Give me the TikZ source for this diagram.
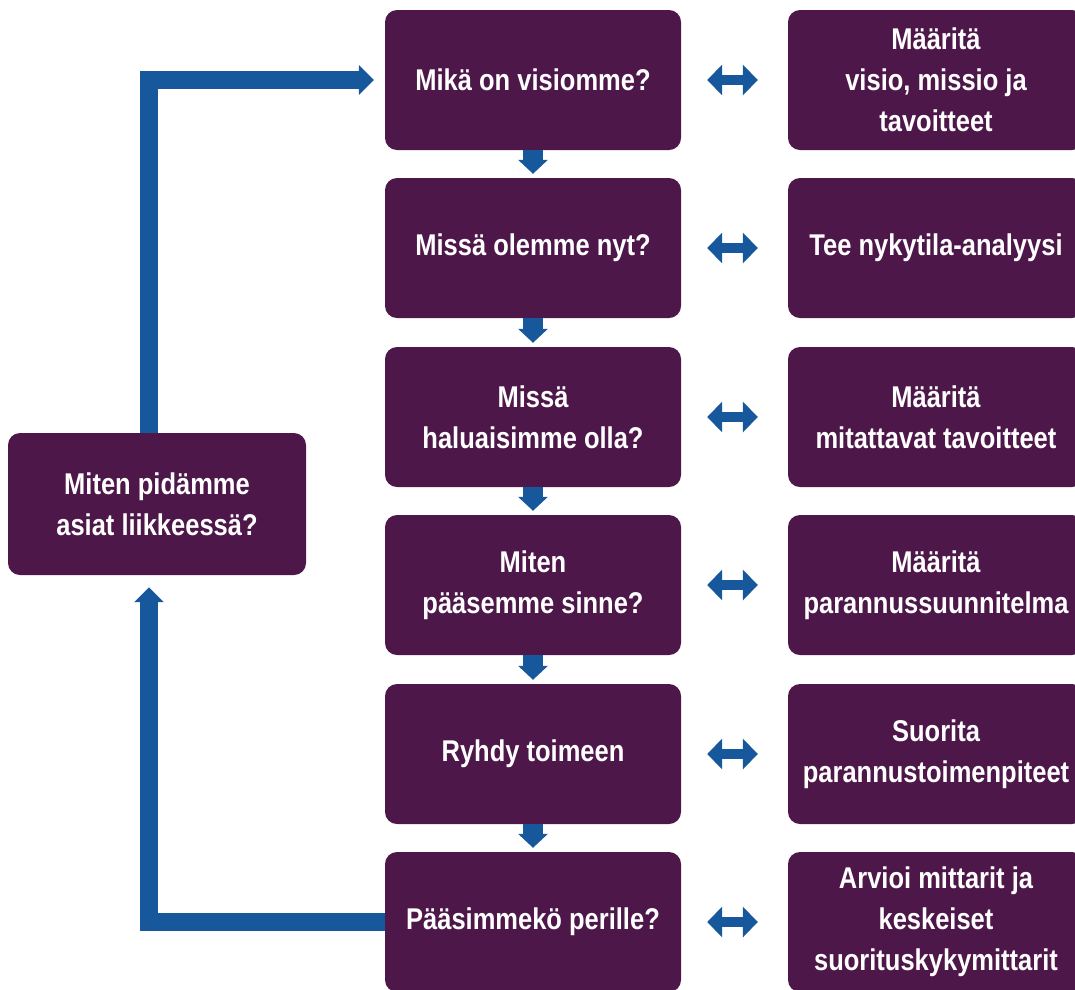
\documentclass[tikz,border=0pt]{standalone}
\usepackage{fontspec}
\usepackage{tikz}
\usetikzlibrary{arrows.meta}
\newfontfamily\boxfont{Liberation Sans}[FakeStretch=0.85]
\definecolor{boxpurple}{RGB}{78,23,73}
\definecolor{flowblue}{RGB}{23,87,155}
\tikzset{
  box/.style={rectangle, rounded corners=12pt, fill=boxpurple, text=white, align=center,
    minimum width=296pt, minimum height=140pt, inner sep=0pt,
    font=\boxfont\bfseries\fontsize{30}{41}\selectfont},
  down/.style={draw=flowblue, line width=20pt, -{Triangle[width=29pt,length=14pt]}, shorten >=4pt},
  both/.style={draw=flowblue, line width=10pt,
    {Triangle[width=30pt,length=15pt]}-{Triangle[width=30pt,length=15pt]},
    shorten <=26pt, shorten >=30pt},
  loop/.style={draw=flowblue, line width=18pt, -{Triangle[width=29pt,length=15pt]}}
}

\begin{document}
\begin{tikzpicture}[x=1pt, y=-1pt]
        \useasboundingbox (0,0) rectangle (1075,989);
        % middle column
        \node[box] (vision) at (533,80) {Mikä on visiomme?};
        \node[box] (now) at (533,248) {Missä olemme nyt?};
        \node[box] (want) at (533,417) {Missä\\haluaisimme olla?};
        \node[box] (how) at (533,585) {Miten\\pääsemme sinne?};
        \node[box] (act) at (533,754) {Ryhdy toimeen};
        \node[box] (done) at (533,922) {Pääsimmekö perille?};
        % right column
        \node[box] (rvision) at (936,80) {Määritä\\visio, missio ja\\tavoitteet};
        \node[box] (rnow) at (936,248) {Tee nykytila-analyysi};
        \node[box] (rwant) at (936,417) {Määritä\\mitattavat tavoitteet};
        \node[box] (rhow) at (936,585) {Määritä\\parannussuunnitelma};
        \node[box] (ract) at (936,754) {Suorita\\parannustoimenpiteet};
        \node[box] (rdone) at (936,922) {Arvioi mittarit ja\\keskeiset\\suorituskykymittarit};
        % left box
        \node[box, minimum width=298pt, minimum height=142pt] (keep) at (157,504) {Miten pidämme\\asiat liikkeessä?};
        \coordinate (loopx) at (149,0);

        \foreach \a/\b in {vision/now, now/want, want/how, how/act, act/done}
            \draw[down] (\a.south) -- (\b.north);
        \foreach \a in {vision, now, want, how, act, done}
            \draw[both] (\a.east) -- (r\a.west);

        \draw[loop, shorten >=12pt] (done.west) -- (done.west -| loopx) -- (keep.south -| loopx);
        \draw[loop, shorten >=11pt] (keep.north -| loopx) -- (vision.west -| loopx) -- (vision.west);
    \end{tikzpicture}
\end{document}
